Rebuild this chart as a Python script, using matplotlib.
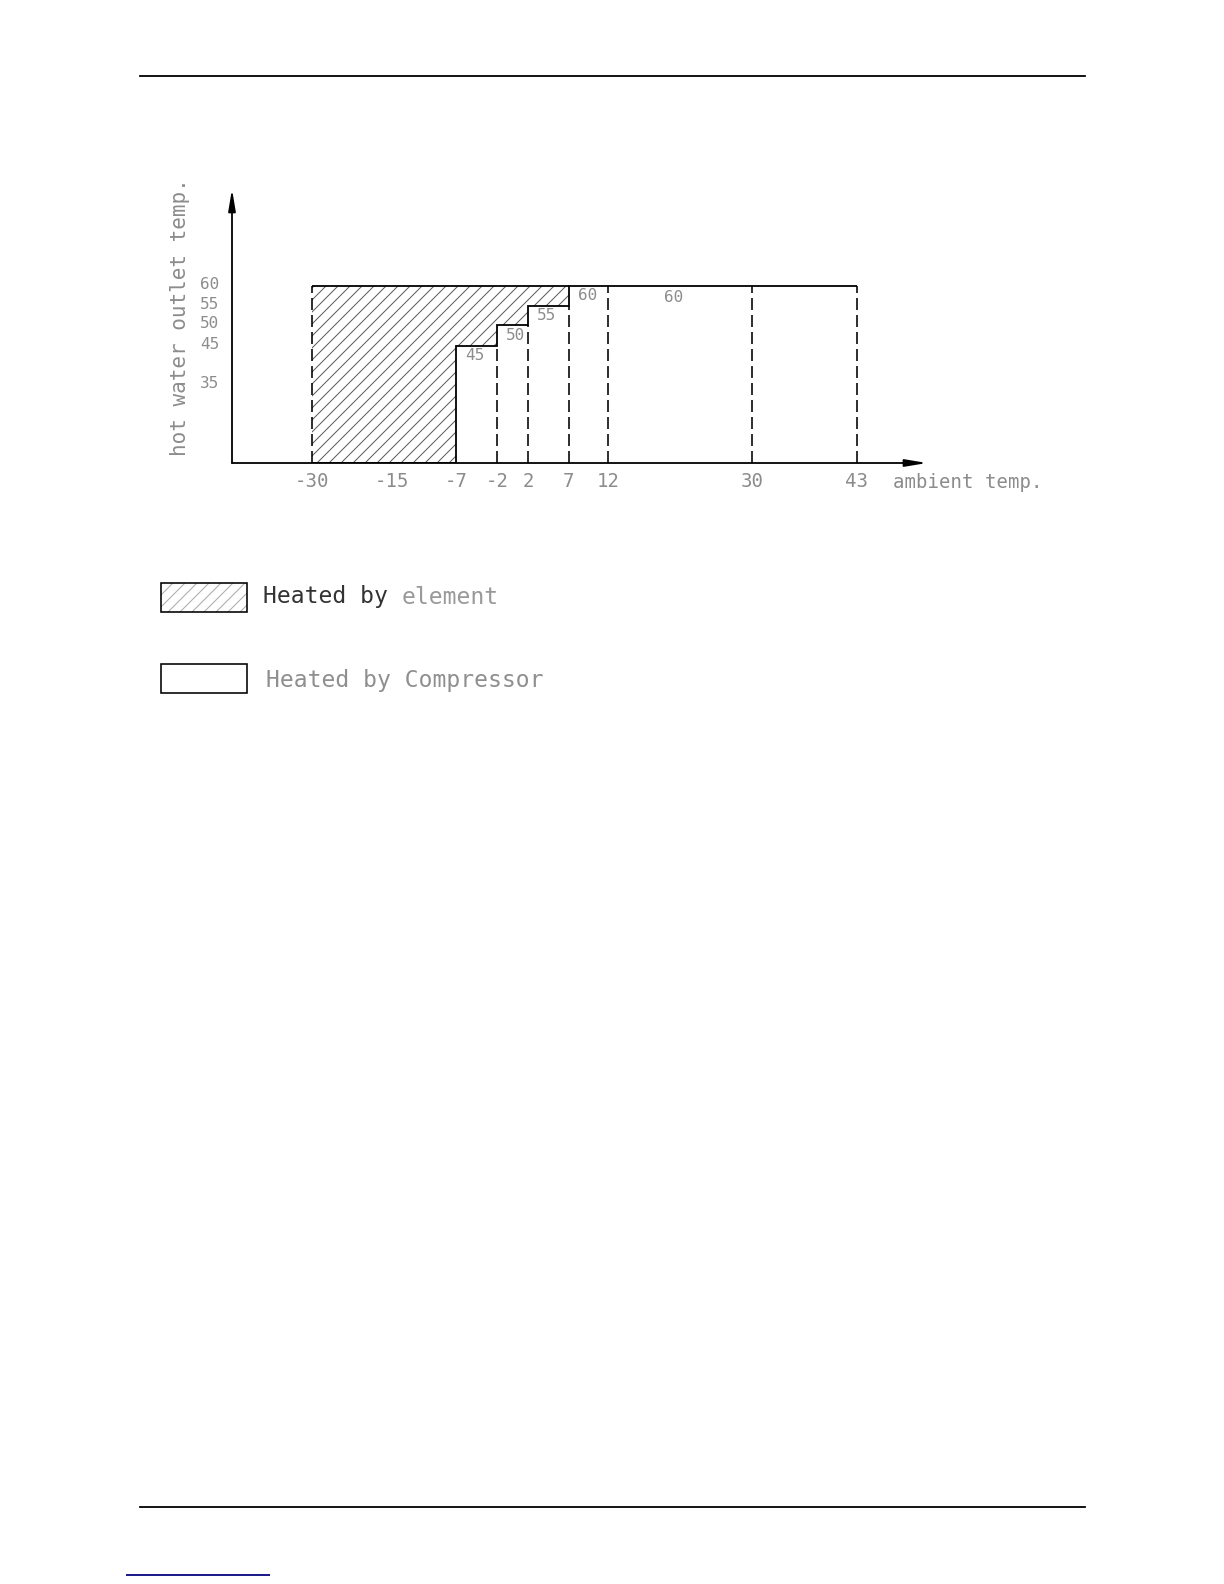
import numpy as np
import matplotlib
matplotlib.use('Agg')
import matplotlib.pyplot as plt
from matplotlib.patches import Rectangle
from matplotlib.transforms import ScaledTranslation

# ambient temperature ticks and outlet temperature ticks
ambient_ticks = [-30, -15, -7, -2, 2, 7, 12, 30, 43]
outlet_ticks = [35, 45, 50, 55, 60]

# electric element range
element_left = -30
element_top = 60

# compressor bands: ambient range and max outlet temp
band_left = [-7, -2, 2, 7, 12, 30]
band_right = [-2, 2, 7, 12, 30, 43]
band_level = [45, 50, 55, 60, 60, 60]
band_text = ['45', '50', '55', '60', '60', '']

# schematic (non-uniform) spacing of the drawing, in pixels from the origin
XB_T = [-45, -30, -15, -7, -2, 2, 7, 12, 30, 43, 52]
XB_P = [0, 80, 160, 224, 265, 296, 337, 376, 520, 625, 695]
YB_T = [0, 35, 45, 50, 55, 60, 84]
YB_P = [0, 78, 117, 138, 157, 177, 274]

plt.rcParams['font.family'] = ['DejaVu Sans Mono']
plt.rcParams['lines.scale_dashes'] = False
plt.rcParams['hatch.linewidth'] = 1.0

W, H = 1224, 1584
fig = plt.figure(figsize=(W / 72, H / 72), dpi=72)
grey = '#8c8c8c'

# page layer in pixel coords
page = fig.add_axes([0, 0, 1, 1], zorder=0)
page.set_xlim(0, W)
page.set_ylim(H, 0)
page.axis('off')

page.plot([140, 1085], [76, 76], color='k', lw=1.8)
page.plot([140, 1085], [1507, 1507], color='k', lw=1.8)
page.plot([127, 269], [1575, 1575], color='#1c1c8a', lw=2)

page.text(180, 317, 'hot water outlet temp.', rotation=90, ha='center',
          va='center', fontsize=21, color=grey)
page.text(893, 483, 'ambient temp.', ha='left', va='center', fontsize=19,
          color=grey)

# legend
page.add_patch(Rectangle((161, 583), 86, 29, facecolor='none', edgecolor='#aaaaaa',
                         lw=0, hatch='//'))
page.add_patch(Rectangle((161, 583), 86, 29, facecolor='none', edgecolor='k', lw=1.6))
page.add_patch(Rectangle((161, 664), 86, 29, facecolor='none', edgecolor='k', lw=1.6))
fs_leg = 23
adv = 0.602 * fs_leg
page.text(263, 597, 'Heated by', fontsize=fs_leg, color='#333333', va='center')
page.text(263 + 10 * adv, 597, 'element', fontsize=fs_leg, color='#999999', va='center')
page.text(266, 680, 'Heated by Compressor', fontsize=fs_leg, color='#8f8f8f', va='center')

# chart
ox, oy = 232, 463
ax = fig.add_axes([ox / W, (H - oy) / H, (927 - ox) / W, (oy - 189) / H], zorder=1)
ax.patch.set_alpha(0)
ax.set_xscale('function', functions=(lambda v: np.interp(v, XB_T, XB_P),
                                     lambda v: np.interp(v, XB_P, XB_T)))
ax.set_yscale('function', functions=(lambda v: np.interp(v, YB_T, YB_P),
                                     lambda v: np.interp(v, YB_P, YB_T)))
ax.set_xlim(XB_T[0], XB_T[-1])
ax.set_ylim(YB_T[0], YB_T[-1])
for s in ax.spines.values():
    s.set_visible(False)

# axes with arrows
arrow = dict(arrowstyle='-|>,head_length=0.9,head_width=0.15', mutation_scale=20,
             color='k', lw=1.8, shrinkA=0, shrinkB=0)
ax.annotate('', xy=(1, 0), xytext=(0, 0), xycoords='axes fraction', arrowprops=arrow)
ax.annotate('', xy=(0, 1), xytext=(0, 0), xycoords='axes fraction', arrowprops=arrow)

# element (hatched) area: above the compressor limit, up to element_top
low = [(l, v) for l, v in zip(band_left, band_level) if v < element_top]
fx = [element_left] + [l for l, _ in low] + [band_right[len(low) - 1]]
fy = [0] + [v for _, v in low] + [low[-1][1]]
ax.fill_between(fx, fy, element_top, step='post', facecolor='none',
                edgecolor='#5a5a5a', lw=0, hatch='//')

# solid outline
ax.stairs([0] + band_level, [element_left] + band_left + [band_right[-1]],
          baseline=None, color='k', lw=1.8)
ax.hlines(element_top, element_left, band_left[len(low)], color='k', lw=1.8)

# dashed dividers
div_x = [element_left] + band_left[1:] + [band_right[-1]]
div_top = [element_top] + band_level[:-1] + [band_level[-1]]
ax.vlines(div_x, 0, div_top, color='k', lw=1.6, linestyles=(0, (12, 5)))

# band labels
fwd = ax.xaxis.get_transform()
for l, r, v, t in zip(band_left, band_right, band_level, band_text):
    if not t:
        continue
    if r - l > 10:
        mid_p = (fwd.transform(np.array([l]))[0] + fwd.transform(np.array([r]))[0]) / 2
        mid = fwd.inverted().transform(np.array([mid_p]))[0]
        ax.annotate(t, xy=(mid, v), xytext=(-6, -12), textcoords='offset points',
                    ha='center', va='center', fontsize=16, color=grey)
    else:
        ax.annotate(t, xy=(l, v), xytext=(9, -10), textcoords='offset points',
                    ha='left', va='center', fontsize=16, color=grey)

ax.set_xticks(ambient_ticks, [str(t) for t in ambient_ticks])
ax.set_yticks(outlet_ticks, [str(t) for t in outlet_ticks])
ax.tick_params(axis='x', length=0, pad=9, labelsize=19, labelcolor=grey)
ax.tick_params(axis='y', length=0, pad=13, labelsize=16, labelcolor=grey)
ax.minorticks_off()
for lab in ax.get_yticklabels():
    lab.set_transform(lab.get_transform() + ScaledTranslation(0, 3 / 72, fig.dpi_scale_trans))

fig.savefig('out.png', dpi=72, facecolor='white')
